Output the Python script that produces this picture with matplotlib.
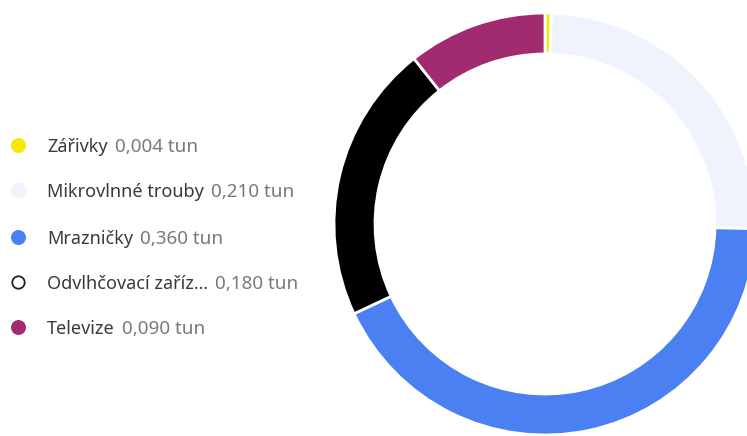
import matplotlib.pyplot as plt

plt.rcParams['font.family'] = ['Noto Sans', 'DejaVu Sans']

labels = ['Zářivky', 'Mikrovlnné trouby', 'Mrazničky', 'Odvlhčovací zaříz...', 'Televize']
values = [0.004, 0.210, 0.360, 0.180, 0.090]
colors = ['#F5E900', '#EEF3FE', '#4A80F2', '#000000', '#A02B6E']

W, H = 747, 436
fig = plt.figure(figsize=(W / 100, H / 100), dpi=100)
ax = fig.add_axes([0, 0, 1, 1])

# donut, clockwise from the top
ax.pie(values, colors=colors, startangle=90, counterclock=False,
       center=(545, H - 224), radius=211,
       wedgeprops=dict(width=41, edgecolor='white', linewidth=2))
ax.set_xlim(0, W)
ax.set_ylim(0, H)
ax.set_aspect('equal')
ax.axis('off')

# legend drawn by hand
fs = 13
row_y = [145, 190, 237, 282, 327]
renderer = fig.canvas.get_renderer()
for lab, val, col, y in zip(labels, values, colors, row_y):
    if col == '#000000':
        ax.scatter(18, H - y, s=80, facecolor='white', edgecolor='#222222', linewidth=1.3, zorder=3)
    else:
        ax.scatter(18, H - y, s=95, color=col, zorder=3)
    t = ax.text(47, H - y, lab, fontsize=fs, color='#3a3a3a', va='center_baseline')
    x_end = ax.transData.inverted().transform((t.get_window_extent(renderer).x1, 0))[0]
    ax.text(x_end + 7, H - y, f'{val:.3f}'.replace('.', ',') + ' tun', fontsize=fs + 0.6,
            color='#7a7a7a', va='center_baseline')

fig.savefig('out.png', dpi=100)
